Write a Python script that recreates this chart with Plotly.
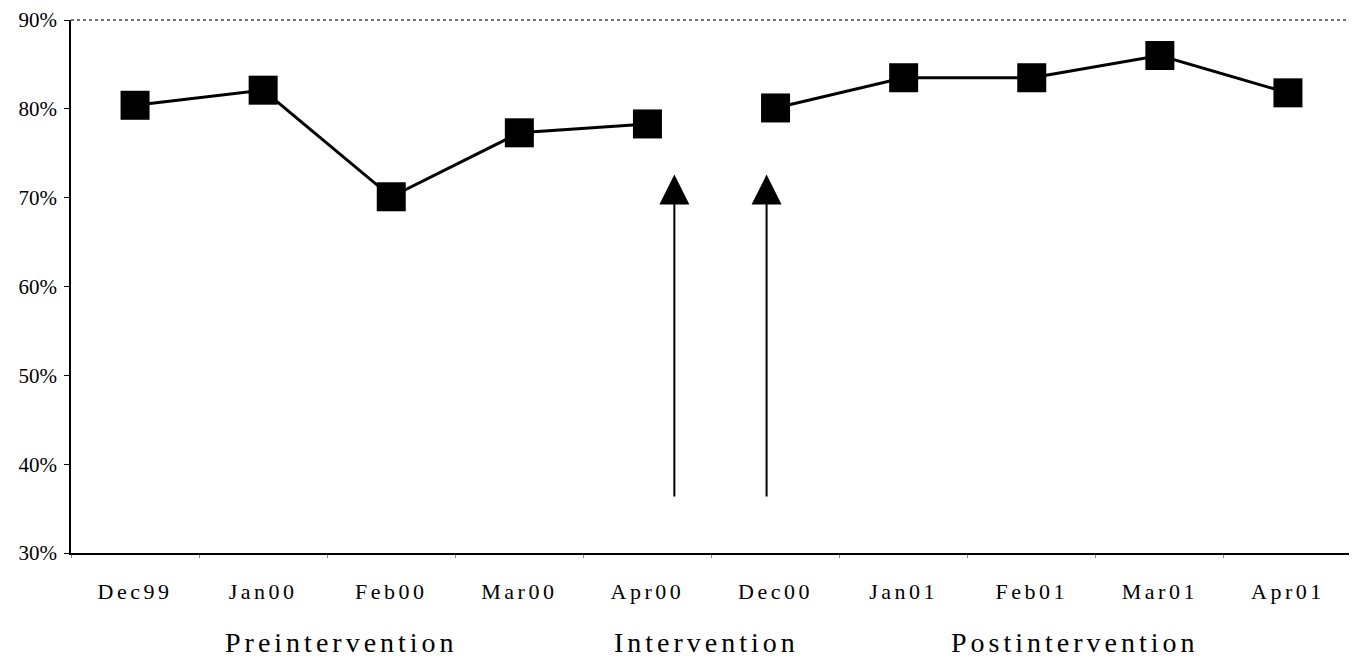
import plotly.graph_objects as go

categories = ["Dec99", "Jan00", "Feb00", "Mar00", "Apr00",
              "Dec00", "Jan01", "Feb01", "Mar01", "Apr01"]
pre_values = [80.4, 82.1, 70.1, 77.3, 78.3]
post_values = [80.1, 83.5, 83.5, 86.0, 81.8]
y_ticks = [30, 40, 50, 60, 70, 80, 90]
y_tick_labels = ["30%", "40%", "50%", "60%", "70%", "80%", "90%"]
groups = ["Preintervention", "Intervention", "Postintervention"]
group_pos = [1.61, 4.46, 7.34]
arrow_x = [4.21, 4.93]
arrow_tip = 72.6
arrow_tail = 36.2

FONT = "Liberation Serif"
LS_TICK = "letter-spacing:3.5px"
LS_GROUP = "letter-spacing:4px"

fig = go.Figure()
marker = dict(symbol="square", size=29, color="black")
line = dict(color="black", width=3)
fig.add_trace(go.Scatter(x=categories[:5], y=pre_values, mode="lines+markers",
                         marker=marker, line=line, showlegend=False))
fig.add_trace(go.Scatter(x=categories[5:], y=post_values, mode="lines+markers",
                         marker=marker, line=line, showlegend=False))

for ax_ in arrow_x:
    fig.add_annotation(x=ax_, y=arrow_tip, ax=ax_, ay=arrow_tail,
                       xref="x", yref="y", axref="x", ayref="y",
                       showarrow=True, arrowhead=2, arrowsize=3, arrowwidth=2,
                       arrowcolor="black", text="")

for g, p in zip(groups, group_pos):
    fig.add_annotation(x=p, y=-0.168, xref="x", yref="paper", yanchor="middle",
                       text=f'<span style="{LS_GROUP}">{g}</span>', showarrow=False,
                       font=dict(family=FONT, size=28, color="black"))

fig.update_xaxes(type="category", categoryorder="array", categoryarray=categories,
                 range=[-0.5, 9.5],
                 tickvals=categories,
                 ticktext=[f'<span style="{LS_TICK}">{c}</span>' for c in categories],
                 tickfont=dict(family=FONT, size=22, color="black"),
                 showline=True, linecolor="black", linewidth=1.5,
                 ticks="outside", ticklen=3, tickcolor="#888", tickson="boundaries",
                 ticklabelstandoff=18,
                 showgrid=False, zeroline=False)
fig.update_yaxes(range=[30, 90], tickvals=y_ticks, ticktext=y_tick_labels,
                 tickfont=dict(family=FONT, size=21, color="black"),
                 showline=True, linecolor="black", linewidth=1.5,
                 ticks="outside", ticklen=5, tickcolor="black",
                 ticklabelstandoff=3, ticklabeloverflow="allow",
                 showgrid=False, zeroline=False)

fig.add_shape(type="line", xref="paper", yref="paper", x0=0, x1=1, y0=1, y1=1,
              line=dict(color="#444", width=1.5, dash="dot"))
fig.add_shape(type="line", xref="paper", yref="paper", x0=1, x1=1, y0=0, y1=1,
              line=dict(color="#444", width=1.5, dash="dot"))

fig.update_layout(width=1349, height=654,
                  margin=dict(l=63, r=5, t=12, b=109, autoexpand=False),
                  plot_bgcolor="white", paper_bgcolor="white",
                  font=dict(family=FONT, color="black"))

fig.write_html("out.html")
